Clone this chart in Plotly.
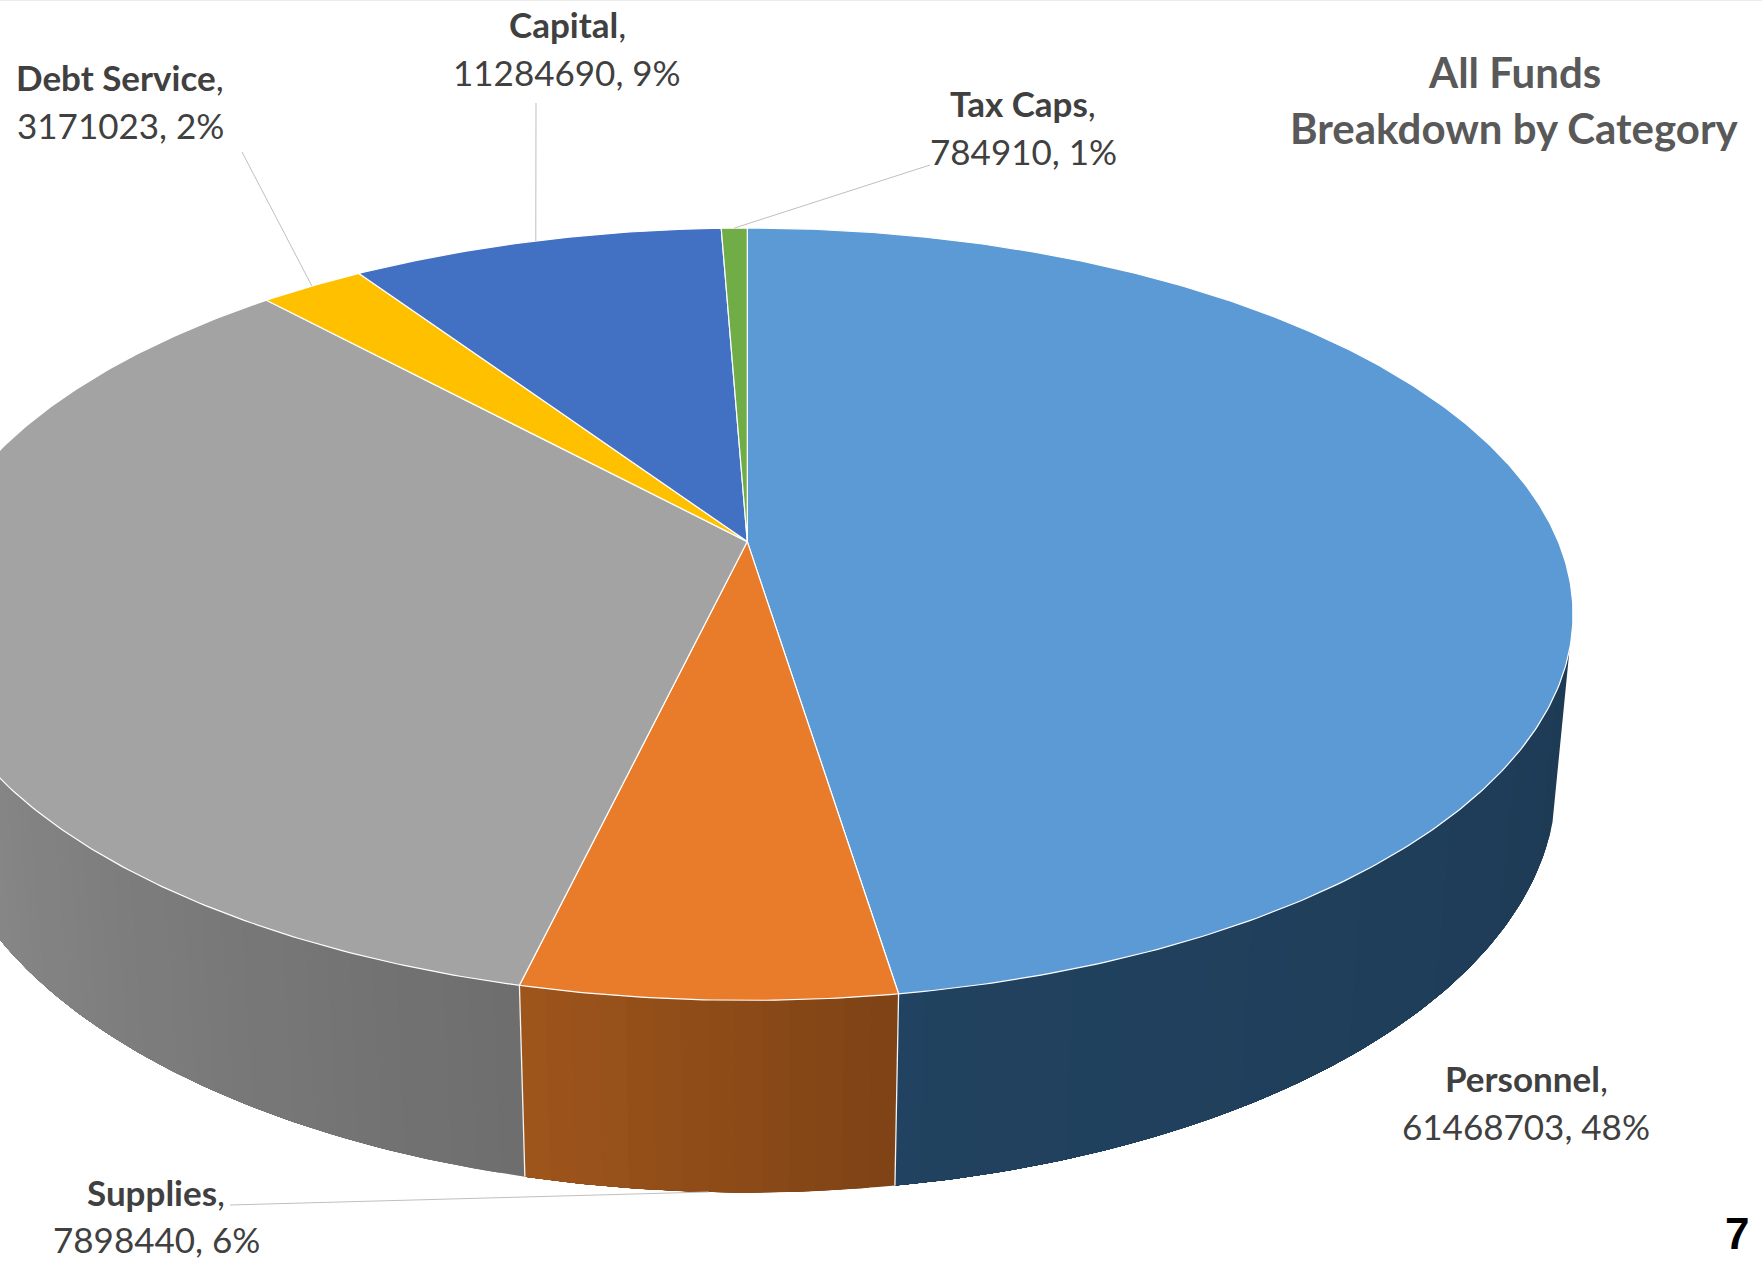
import numpy as np
import plotly.graph_objects as go

# Budget categories, clockwise from twelve o'clock.
names = ["Personnel", "Supplies", "Contracted Services", "Debt Service", "Capital", "Tax Caps"]
amounts = [61468703, 7898440, 44600000, 3171023, 11284690, 784910]
top_colors = ["#5B9AD5", "#E87C2B", "#A3A3A3", "#FFC000", "#4270C2", "#70AD47"]
# Side wall colours at the start and end of each wedge's arc.
wall_start = ["#1E3B55", "#7F4315", "#6E6E6E", "#7A7A7A", "#26427A", "#3E6227"]
wall_end = ["#214260", "#A0561C", "#969696", "#8A8A8A", "#26427A", "#3E6227"]

# Perspective of the disc: homogeneous projection of the unit circle.
CX, CY = 747.3, 541.6
AX, BY = 811.0, 372.5
TILT, DROP_W, DROP_Y = 0.188, 0.02, 169.0
W, H = 1762, 1261


def project(theta_deg, z=0.0):
    t = np.radians(theta_deg)
    u, v = np.sin(t), np.cos(t)
    w = 1 + TILT * v + DROP_W * z
    return CX + AX * u / w, CY + (-BY * v + DROP_Y * z) / w


def mix(c1, c2, f):
    a = [int(c1[i:i + 2], 16) for i in (1, 3, 5)]
    b = [int(c2[i:i + 2], 16) for i in (1, 3, 5)]
    return "rgb({},{},{})".format(*[round(p + (q - p) * f) for p, q in zip(a, b)])


total = sum(amounts)
edges = np.concatenate([[0], np.cumsum(amounts) / total * 360.0])
fig = go.Figure()
FILLED = dict(mode="lines", fill="toself", hoverinfo="skip", showlegend=False)

# Side wall, only on the side facing the viewer. Each band runs on to the end of
# its wedge and the next band paints over it, so no seams show between shades.
WALL_FROM, WALL_TO = 106.0, 265.0
for i in range(len(amounts)):
    lo, hi = max(edges[i], WALL_FROM), min(edges[i + 1], WALL_TO)
    if hi <= lo:
        continue
    cuts = np.linspace(lo, hi, max(2, int((hi - lo) / 1.5) + 1))
    for a0 in cuts[:-1]:
        frac = (a0 - lo) / (hi - lo)
        col = mix(wall_start[i], wall_end[i], frac)
        arc = np.linspace(a0, hi, max(4, int(hi - a0) * 2))
        xt, yt = project(arc, 0)
        xb, yb = project(arc[::-1], 1)
        fig.add_trace(go.Scatter(x=np.r_[xt, xb], y=np.r_[yt, yb], fillcolor=col,
                                 line=dict(color=col, width=0), **FILLED))

# White seams where wedges meet on the wall.
for e in edges[1:3]:
    xt, yt = project(e, 0)
    xb, yb = project(e, 1)
    fig.add_trace(go.Scatter(x=[xt, xb], y=[yt, yb], mode="lines", hoverinfo="skip",
                             showlegend=False, line=dict(color="#F4F4F4", width=1.3)))

# Top face of the disc.
for i in range(len(amounts)):
    arc = np.linspace(edges[i], edges[i + 1], max(3, int(edges[i + 1] - edges[i]) * 2))
    xs, ys = project(arc, 0)
    fig.add_trace(go.Scatter(x=np.r_[CX, xs, CX], y=np.r_[CY, ys, CY], fillcolor=top_colors[i],
                             line=dict(color="#FFFFFF", width=1.2), **FILLED))

# Data labels: (bold name line, value line) centred on a shared anchor.
percent = [round(a / total * 100) for a in amounts]
label_at = {
    "Personnel": (1526, 1078),
    "Supplies": (156, 1191.5),
    "Debt Service": (120, 77),
    "Capital": (567, 24),
    "Tax Caps": (1023, 103),
}
LINE_GAP = 47.5
LABEL_FONT = dict(family="Lato", size=35, color="#404040")
for i, name in enumerate(names):
    if name not in label_at:
        continue
    lx, ly = label_at[name]
    fig.add_annotation(x=lx, y=ly, text=f"<b>{name}</b>,", showarrow=False, font=LABEL_FONT)
    fig.add_annotation(x=lx, y=ly + LINE_GAP, text=f"{amounts[i]}, {percent[i]}%", showarrow=False,
                       font=LABEL_FONT)

# Leader lines run from the label to the middle of the wedge's rim.
leaders = {"Debt Service": (242, 152, 0), "Capital": (536, 103, 0),
           "Tax Caps": (930, 165, 0), "Supplies": (230, 1205, 1)}
for name, (lx, ly, depth) in leaders.items():
    i = names.index(name)
    ex, ey = project((edges[i] + edges[i + 1]) / 2, depth)
    fig.add_trace(go.Scatter(x=[lx, ex], y=[ly, ey], mode="lines", hoverinfo="skip",
                             showlegend=False, line=dict(color="#BFBFBF", width=1)))

# Heading and page number.
HEAD_FONT = dict(family="Lato", size=42, color="#595959")
fig.add_annotation(x=1514, y=71.5, text="<b>All Funds</b>", showarrow=False, font=HEAD_FONT)
fig.add_annotation(x=1514, y=127.5, text="<b>Breakdown by Category</b>", showarrow=False, font=HEAD_FONT)
fig.add_annotation(x=1737, y=1233, text="<b>7</b>", showarrow=False,
                   font=dict(family="Liberation Sans", size=44, color="#000000"))

fig.update_layout(
    width=W, height=H, margin=dict(l=0, r=0, t=0, b=0),
    paper_bgcolor="white", plot_bgcolor="white", showlegend=False,
    xaxis=dict(range=[0, W], visible=False, fixedrange=True),
    yaxis=dict(range=[H, 0], visible=False, fixedrange=True),
    shapes=[dict(type="line", xref="paper", yref="paper", x0=0, x1=1, y0=1, y1=1,
                 line=dict(color="#ECECEC", width=2))],
)
fig.write_html("out.html", config=dict(displayModeBar=False))
